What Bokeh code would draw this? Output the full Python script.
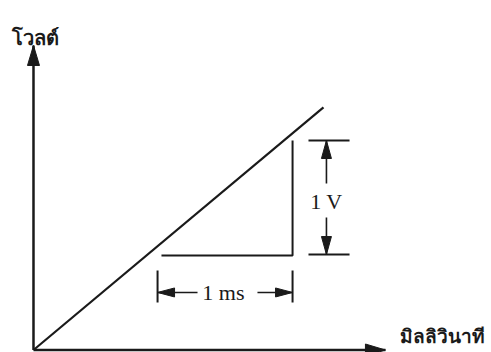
import numpy as np
from bokeh.plotting import figure
from bokeh.models import Range1d
from bokeh.core.properties import value
from bokeh.embed import file_html
from bokeh.resources import INLINE

# ---- data (time in ms, voltage in V) ----
ramp_t = [0.0, 2.148]
ramp_v = [0.0, 2.091]

tri_t = [0.948, 1.919, 1.919]
tri_v = [0.815, 0.815, 1.806]

axis_y_top = 2.625
axis_x_end = 2.607

dim_v_low, dim_v_high = 0.823, 1.806
dim_v_t = 2.170
dim_v_tick_t = [2.037, 2.341]
dim_v_label_v = 1.28
dim_v_gap = [1.142, 1.435]

dim_t_left, dim_t_right = 0.919, 1.919
dim_t_v = 0.496
dim_t_tick_v = [0.409, 0.685]
dim_t_label_t = 1.407
dim_t_gap = [1.215, 1.659]

y_label = "โวลต์"
x_label = "มิลลิวินาที"
v_label = "1 V"
t_label = "1 ms"

# ---- figure ----
W, H = 491, 352
X0, X1 = -0.2444, 3.3926
Y0, Y1 = -0.02155, 3.0129
px_t = W / (X1 - X0)
px_v = H / (Y1 - Y0)

p = figure(width=W, height=H, x_range=Range1d(X0, X1), y_range=Range1d(Y0, Y1),
           output_backend="svg", toolbar_location=None,
           x_axis_location=None, y_axis_location=None, min_border=0)
p.outline_line_color = None
p.xgrid.visible = False
p.ygrid.visible = False
p.background_fill_color = "white"
p.border_fill_color = "white"

INK = "#1a1a1a"


def head(sx, sy, tx, ty, length=18, width=10):
    dx = (tx - sx) * px_t
    dy = (ty - sy) * px_v
    n = np.hypot(dx, dy)
    ux, uy = dx / n, dy / n
    bx, by = -ux * length, -uy * length
    qx, qy = -uy * width / 2, ux * width / 2
    xs = [tx, tx + (bx + qx) / px_t, tx + (bx - qx) / px_t]
    ys = [ty, ty + (by + qy) / px_v, ty + (by - qy) / px_v]
    return xs, ys


heads_x, heads_y = [], []

# axes
p.line([0, 0], [0, axis_y_top], line_color=INK, line_width=2.5)
p.line([0, axis_x_end], [0, 0], line_color=INK, line_width=2.5)
hx, hy = head(0, 0, 0, axis_y_top, 20, 12)
heads_x.append(hx); heads_y.append(hy)
hx, hy = head(0, 0, axis_x_end, 0, 20, 12)
heads_x.append(hx); heads_y.append(hy)

# ramp
p.line(ramp_t, ramp_v, line_color=INK, line_width=2.2)

# triangle
p.line(tri_t, tri_v, line_color=INK, line_width=2)

# 1 V dimension
p.segment(x0=[dim_v_tick_t[0]] * 2, x1=[dim_v_tick_t[1]] * 2,
          y0=[dim_v_low, dim_v_high], y1=[dim_v_low, dim_v_high],
          line_color=INK, line_width=2)
p.segment(x0=[dim_v_t, dim_v_t], x1=[dim_v_t, dim_v_t],
          y0=[dim_v_gap[1], dim_v_gap[0]], y1=[dim_v_high, dim_v_low],
          line_color=INK, line_width=1.6)
hx, hy = head(dim_v_t, dim_v_gap[1], dim_v_t, dim_v_high)
heads_x.append(hx); heads_y.append(hy)
hx, hy = head(dim_v_t, dim_v_gap[0], dim_v_t, dim_v_low)
heads_x.append(hx); heads_y.append(hy)

# 1 ms dimension
p.segment(x0=[dim_t_left, dim_t_right], x1=[dim_t_left, dim_t_right],
          y0=[dim_t_tick_v[0]] * 2, y1=[dim_t_tick_v[1]] * 2,
          line_color=INK, line_width=2)
p.segment(x0=[dim_t_gap[0], dim_t_gap[1]], x1=[dim_t_left, dim_t_right],
          y0=[dim_t_v, dim_t_v], y1=[dim_t_v, dim_t_v],
          line_color=INK, line_width=1.6)
hx, hy = head(dim_t_gap[0], dim_t_v, dim_t_left, dim_t_v, 17, 9)
heads_x.append(hx); heads_y.append(hy)
hx, hy = head(dim_t_gap[1], dim_t_v, dim_t_right, dim_t_v, 17, 9)
heads_x.append(hx); heads_y.append(hy)

p.patches(heads_x, heads_y, fill_color=INK, line_color=INK, line_width=1)

# labels
p.text(x=[dim_v_t, dim_t_label_t], y=[dim_v_label_v, dim_t_v], text=[v_label, t_label],
       text_font=value("Liberation Serif"), text_font_size="22px",
       text_align="center", text_baseline="middle", text_color=INK)
p.text(x=[-0.156], y=[2.694], text=[y_label],
       text_font=value("Noto Sans"), text_font_size="20px", text_font_style="bold",
       text_align="left", text_baseline="alphabetic", text_color=INK)
p.text(x=[2.712], y=[0.006], text=[x_label],
       text_font=value("Noto Sans"), text_font_size="19px", text_font_style="bold",
       text_align="left", text_baseline="bottom", text_color=INK)

open("out.html", "w").write(file_html(p, INLINE))
